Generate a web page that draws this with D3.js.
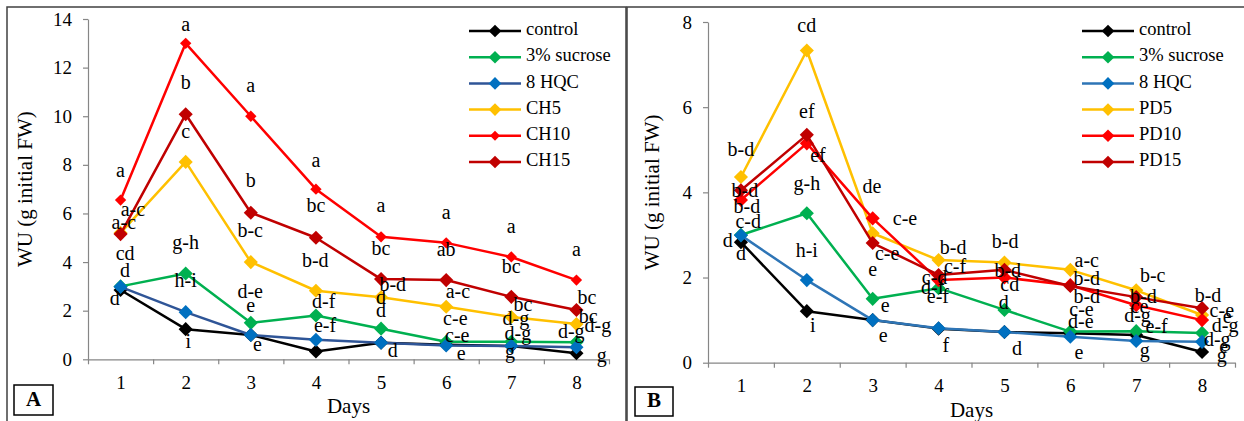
<!DOCTYPE html>
<html>
<head>
<meta charset="utf-8">
<script src="https://cdn.jsdelivr.net/npm/d3@7"></script>
<style>
  body { margin: 0; background: #fff; }
  svg { display: block; font-family: "Liberation Serif", "Times New Roman", serif; }
  svg text { font-family: "Liberation Serif", "Times New Roman", serif !important; fill: #000; }
</style>
</head>
<body>
<svg id="chart" width="1244" height="421"></svg>
<script>
'use strict';

/*** Data */
const days = [1, 2, 3, 4, 5, 6, 7, 8];

/** Panel A - chitosan */
const namesA = ["control", "3% sucrose", "8 HQC", "CH5", "CH10", "CH15"];
const controlA = [2.85, 1.24, 1.0, 0.32, 0.68, 0.6, 0.55, 0.25];
const sucroseA = [3.0, 3.53, 1.5, 1.8, 1.26, 0.72, 0.72, 0.7];
const hqcA     = [2.98, 1.94, 1.0, 0.8, 0.68, 0.57, 0.55, 0.5];
const ch5      = [5.2, 8.12, 4.0, 2.82, 2.55, 2.16, 1.74, 1.45];
const ch10     = [6.55, 13.0, 10.0, 7.0, 5.04, 4.79, 4.21, 3.26];
const ch15     = [5.15, 10.08, 6.03, 5.0, 3.3, 3.26, 2.57, 2.03];

/** Panel B - PD */
const namesB = ["control", "3% sucrose", "8 HQC", "PD5", "PD10", "PD15"];
const controlB = [2.83, 1.21, 1.0, 0.8, 0.72, 0.69, 0.65, 0.25];
const sucroseB = [3.0, 3.51, 1.5, 1.75, 1.24, 0.73, 0.74, 0.7];
const hqcB     = [2.99, 1.94, 1.0, 0.81, 0.72, 0.61, 0.51, 0.49];
const pd5      = [4.36, 7.33, 3.04, 2.41, 2.35, 2.18, 1.7, 1.12];
const pd10     = [3.82, 5.15, 3.39, 1.94, 2.0, 1.82, 1.35, 1.0];
const pd15     = [4.05, 5.35, 2.81, 2.06, 2.18, 1.8, 1.54, 1.28];

/** Significance letters: [day, value, letters] */
const lettersA = [
  [2, 13.68, "a"], [2, 11.29, "b"], [3, 11.17, "a"], [1, 7.67, "a"], [2, 9.31, "c"],
  [3, 7.26, "b"], [4, 8.12, "a"], [4, 6.23, "bc"], [1.19, 6.1, "a-c"], [1.05, 5.53, "a-c"],
  [1.07, 4.29, "cd"], [1.07, 3.59, "d"], [0.91, 2.44, "d"], [2, 4.71, "g-h"], [2, 3.17, "h-i"],
  [2.04, 0.67, "i"], [2.99, 5.2, "b-c"], [2.99, 2.73, "d-e"], [3, 2.15, "e"], [3.1, 0.51, "e"],
  [3.99, 4.0, "b-d"], [4.12, 2.32, "d-f"], [4.14, 1.33, "e-f"],
  [5, 6.23, "a"], [5, 4.5, "bc"], [5.18, 2.98, "b-d"], [5, 2.48, "d"], [5, 1.91, "d"], [5.18, 0.3, "d"],
  [6, 5.98, "a"], [6, 4.42, "ab"], [6.18, 2.73, "a-c"], [6.14, 1.62, "c-e"], [6.17, 0.92, "c-e"], [6.23, 0.18, "e"],
  [7, 5.37, "a"], [7, 3.72, "bc"], [7.18, 2.19, "bc"], [7.07, 1.62, "d-g"], [7.1, 1.0, "d-g"], [6.98, 0.26, "g"],
  [8, 4.42, "a"], [8.16, 2.48, "bc"], [8.18, 1.7, "bc"], [8.33, 1.33, "d-g"], [7.92, 1.08, "d-g"], [8.39, 0.09, "g"]
];

const lettersB = [
  [1, 4.95, "b-d"], [1.06, 4.01, "b-d"], [1.09, 3.63, "b-d"], [1.11, 3.28, "c-d"], [0.8, 2.83, "d"], [1, 2.53, "d"],
  [2, 7.88, "cd"], [2, 5.86, "ef"], [2.17, 4.83, "ef"], [2, 4.17, "g-h"], [2, 2.6, "h-i"], [2.09, 0.82, "i"],
  [2.99, 4.1, "de"], [3.49, 3.33, "c-e"], [3.22, 2.53, "c-e"], [3, 2.15, "e"], [3.19, 1.31, "e"], [3.16, 0.6, "e"],
  [4.22, 2.65, "b-d"], [4.25, 2.22, "c-f"], [3.94, 1.96, "c-d"], [3.91, 1.71, "d-f"], [3.99, 1.5, "e-f"], [4.11, 0.37, "f"],
  [5.01, 2.81, "b-d"], [5.05, 2.11, "b-d"], [5.08, 1.78, "cd"], [4.99, 1.38, "d"], [5.19, 0.3, "d"],
  [6.25, 2.36, "a-c"], [6.25, 1.94, "b-d"], [6.25, 1.5, "b-d"], [6.17, 1.21, "c-e"], [6.16, 0.93, "d-e"], [6.13, 0.2, "e"],
  [7.25, 2.01, "b-c"], [7.11, 1.52, "b-d"], [7.05, 1.28, "ce"], [7.02, 1.07, "d-g"], [7.31, 0.81, "e-f"], [7.13, 0.23, "g"],
  [8.09, 1.54, "b-d"], [8.3, 1.19, "c-e"], [8.38, 1.03, "e"], [8.35, 0.84, "d-g"], [8.23, 0.5, "d-g"], [8.33, 0.33, "e"], [8.3, 0.12, "g"]
];

/*** Panel layouts (positions / styles only) */
const colours = ["#000000", "#00b050", "#2f5597", "#ffc000", "#ff0000", "#c00000"];
const markerColours = ["#000000", "#00b050", "#0070c0", "#ffc000", "#ff0000", "#c00000"];
const serif = '"Liberation Serif", "Times New Roman", serif';

const panels = [
  {
    tag: "A", names: namesA, series: [controlA, sucroseA, hqcA, ch5, ch10, ch15], letters: lettersA,
    frame: [7, 7, 619, 416], left: 88, right: 609, top: 19, bottom: 359.3, yMax: 14,
    titleX: 27, legendX: 469, tagBox: [14, 385, 39, 30], lineBlue: "#2f5597", smallRed: true
  },
  {
    tag: "B", names: namesB, series: [controlB, sucroseB, hqcB, pd5, pd10, pd15], letters: lettersB,
    frame: [627, 7, 620, 416], left: 708, right: 1235, top: 22, bottom: 362.7, yMax: 8,
    titleX: 654, legendX: 1082, tagBox: [635, 387, 38, 29], lineBlue: "#2e75b6", smallRed: false
  }
];

const svg = d3.select("#chart");
const diamond = (area) => d3.symbol().type(d3.symbolSquare).size(area);

panels.forEach((p) => {
  const g = svg.append("g").attr("font-family", serif);

  /* frame */
  g.append("rect")
    .attr("x", p.frame[0]).attr("y", p.frame[1])
    .attr("width", p.frame[2]).attr("height", p.frame[3])
    .attr("fill", "none").attr("stroke", "#404040").attr("stroke-width", 1.5);

  /* scales */
  const x = d3.scaleLinear().domain([0.5, 8.5]).range([p.left, p.right]);
  const y = d3.scaleLinear().domain([0, p.yMax]).range([p.bottom, p.top]);

  /* y axis */
  const yAxis = g.append("g")
    .attr("transform", `translate(${p.left},0)`)
    .call(d3.axisLeft(y).tickValues(d3.range(0, p.yMax + 1, 2)).tickSize(5).tickPadding(11).tickSizeOuter(0));

  /* x axis: boundary ticks, then day labels */
  const xTicks = g.append("g")
    .attr("transform", `translate(0,${p.bottom})`)
    .call(d3.axisBottom(x).tickValues(d3.range(0.5, 9, 1)).tickSize(5).tickSizeOuter(0).tickFormat(""));
  const xLabels = g.append("g")
    .attr("transform", `translate(0,${p.bottom})`)
    .call(d3.axisBottom(x).tickValues(days).tickSize(0).tickPadding(16));
  xLabels.select(".domain").remove();

  [yAxis, xTicks, xLabels].forEach((a) => {
    a.attr("font-family", serif);
    a.selectAll("path, line").attr("stroke", "#868686").attr("stroke-width", 1.2);
    a.selectAll("text").style("font-family", serif).style("font-size", "19px").attr("fill", "#000");
  });

  /* axis titles */
  g.append("text")
    .attr("transform", `translate(${p.titleX},${(p.top + p.bottom) / 2}) rotate(-90)`)
    .attr("text-anchor", "middle").attr("dominant-baseline", "middle")
    .style("font-family", serif).style("font-size", "21px")
    .text("WU (g initial FW)");

  g.append("text")
    .attr("x", (p.left + p.right) / 2).attr("y", p.bottom + 54)
    .attr("text-anchor", "middle")
    .style("font-family", serif).style("font-size", "21px")
    .text("Days");

  /* series */
  const line = d3.line().x((d, i) => x(days[i])).y((d) => y(d));
  p.series.forEach((vals, s) => {
    const lc = s === 2 ? p.lineBlue : colours[s];
    const area = (s === 4 && p.smallRed) ? 64 : 100;
    g.append("path").datum(vals)
      .attr("d", line).attr("fill", "none")
      .attr("stroke", lc).attr("stroke-width", 2.5).attr("stroke-linejoin", "round");
    g.selectAll(null).data(vals).enter().append("path")
      .attr("d", diamond(area))
      .attr("transform", (d, i) => `translate(${x(days[i])},${y(d)}) rotate(45)`)
      .attr("fill", markerColours[s]);
  });

  /* letters */
  g.selectAll(null).data(p.letters).enter().append("text")
    .attr("x", (d) => x(d[0])).attr("y", (d) => y(d[1]))
    .attr("text-anchor", "middle").attr("dominant-baseline", "middle")
    .style("font-family", serif).style("font-size", "20px")
    .text((d) => d[2]);

  /* legend */
  const leg = g.selectAll(null).data(p.names).enter().append("g")
    .attr("transform", (d, i) => `translate(${p.legendX},${31 + i * 26.2})`);
  leg.append("line")
    .attr("x1", 0).attr("x2", 52).attr("y1", 0).attr("y2", 0)
    .attr("stroke", (d, i) => i === 2 ? p.lineBlue : colours[i]).attr("stroke-width", 2.5);
  leg.append("path")
    .attr("d", (d, i) => diamond((i === 4 && p.smallRed) ? 50 : 80)())
    .attr("transform", "translate(26,0) rotate(45)")
    .attr("fill", (d, i) => markerColours[i]);
  leg.append("text")
    .attr("x", 57).attr("y", 0).attr("dominant-baseline", "middle")
    .style("font-family", serif).style("font-size", "18.5px")
    .text((d) => d);

  /* panel tag */
  g.append("rect")
    .attr("x", p.tagBox[0]).attr("y", p.tagBox[1])
    .attr("width", p.tagBox[2]).attr("height", p.tagBox[3])
    .attr("fill", "#fff").attr("stroke", "#000").attr("stroke-width", 1.5);
  g.append("text")
    .attr("x", p.tagBox[0] + p.tagBox[2] / 2).attr("y", p.tagBox[1] + p.tagBox[3] / 2 + 1)
    .attr("text-anchor", "middle").attr("dominant-baseline", "middle")
    .style("font-family", serif).style("font-size", "21px").style("font-weight", "bold")
    .text(p.tag);
});
</script>
</body>
</html>
